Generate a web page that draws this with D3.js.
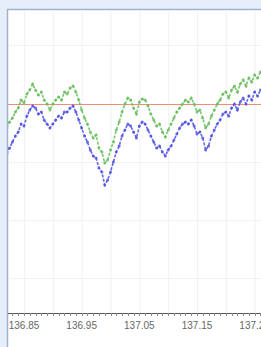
<!DOCTYPE html>
<html>
<head>
<meta charset="utf-8">
<script src="https://cdn.jsdelivr.net/npm/d3@7"></script>
<style>
body { margin:0; padding:0; background:#e6eff9; }
svg { display:block; }
</style>
</head>
<body>
<div id="chart"></div>
<script>
(function(){

var width = 261,
	height = 347,
	frame = {left: 7, top: 9},
	axis_y = 313;

// x runs in regular steps, y is the level relative to the red reference line

var x_start = 136.82,
	x_step = 0.005;

var green = [-24,-18,-14,-8,-4,4,1,10,14,20,14,9,12,4,0,-6,0,4,7,4,12,10,16,18,12,4,-6,-14,-20,-28,
	-34,-31,-44,-48,-59,-56,-46,-38,-26,-18,-8,0,6,4,-4,-10,2,5,4,-2,-10,-16,-22,-20,-28,-33,-26,-20,-14,-8,
	-4,0,4,2,6,0,-8,-6,-14,-24,-20,-12,-6,0,4,10,12,6,14,18,12,20,24,18,26,22,29,26,32];

var blue = [-50,-44,-38,-32,-28,-20,-22,-12,-6,-2,-4,-10,-8,-16,-20,-24,-20,-16,-12,-14,-8,-8,-4,-2,-8,-16,-24,-32,-38,-46,
	-52,-54,-64,-68,-81,-76,-68,-58,-48,-42,-32,-26,-20,-22,-28,-34,-22,-18,-20,-26,-32,-38,-44,-42,-48,-52,-46,-42,-36,-30,
	-24,-20,-18,-20,-16,-22,-30,-28,-34,-46,-42,-32,-26,-20,-16,-10,-8,-12,-4,0,-6,2,6,0,8,4,12,8,14];

var ref_level = 0;
var x_ticks = [136.85, 136.95, 137.05, 137.15, 137.25];
var x_grid = [136.85, 136.9, 136.95, 137.0, 137.05, 137.1, 137.15, 137.2, 137.25];
var y_grid = [59, 0, -58, -116, -174];

var greencolor = "rgb(100,188,88)",
	bluecolor = "rgb(76,76,226)",
	refcolor = "rgb(240,140,120)";

// scales
var X = d3.scaleLinear().domain([136.85, 137.15]).range([24, 197]);
var Y = d3.scaleLinear().domain([-209, 94]).range([axis_y, frame.top + 1]);

var svg = d3.select("#chart").append("svg")
	.attr("width", width)
	.attr("height", height);

svg.append("rect")
	.attr("width", width).attr("height", height)
	.style("fill", "#e6eff9");

// plot area with its frame
svg.append("rect")
	.attr("x", frame.left + 0.5).attr("y", frame.top + 0.5)
	.attr("width", width).attr("height", height)
	.style("fill", "#fff")
	.style("stroke", "#9fb3cc")
	.style("stroke-width", 1.5);

svg.append("clipPath").attr("id", "plotclip")
	.append("rect")
	.attr("x", frame.left + 1).attr("y", frame.top + 1)
	.attr("width", width).attr("height", height);

var plot = svg.append("g").attr("clip-path", "url(#plotclip)");

// faint grid
plot.selectAll(".vgrid").data(x_grid).enter().append("line")
	.attr("class", "vgrid")
	.attr("x1", function(d){ return X(d) + 0.5 }).attr("x2", function(d){ return X(d) + 0.5 })
	.attr("y1", frame.top).attr("y2", axis_y)
	.style("stroke", "#f2f2f2");

plot.selectAll(".hgrid").data(y_grid).enter().append("line")
	.attr("class", "hgrid")
	.attr("x1", frame.left).attr("x2", width)
	.attr("y1", function(d){ return Math.round(Y(d)) + 0.5 }).attr("y2", function(d){ return Math.round(Y(d)) + 0.5 })
	.style("stroke", "#f2f2f2");

// reference line
plot.append("line")
	.attr("x1", frame.left).attr("x2", width)
	.attr("y1", Math.round(Y(ref_level)) + 0.5).attr("y2", Math.round(Y(ref_level)) + 0.5)
	.style("stroke", refcolor)
	.style("stroke-width", 1);

var line = d3.line()
	.x(function(d, i){ return X(x_start + i * x_step) })
	.y(function(d){ return Y(d) });

function series(data, color){
	plot.append("path")
		.datum(data)
		.attr("d", line)
		.style("fill", "none")
		.style("stroke", color)
		.style("stroke-width", 1.6)
		.style("stroke-dasharray", "3,1.5")
		.style("opacity", 0.85);
	plot.append("g").selectAll("circle").data(data).enter().append("circle")
		.attr("cx", function(d, i){ return X(x_start + i * x_step) })
		.attr("cy", function(d){ return Y(d) })
		.attr("r", 1.5)
		.style("fill", color)
		.style("opacity", 0.8);
}

series(green, greencolor);
series(blue, bluecolor);

// x axis with minor ticks
var minor = d3.range(136.83, 137.27, 0.01);

var ax = svg.append("g").attr("clip-path", "url(#plotclip)");

ax.append("line")
	.attr("x1", frame.left).attr("x2", width)
	.attr("y1", axis_y + 0.5).attr("y2", axis_y + 0.5)
	.style("stroke", "#555")
	.style("stroke-width", 1.2);

ax.selectAll(".minor").data(minor).enter().append("line")
	.attr("x1", function(d){ return Math.round(X(d)) + 0.5 }).attr("x2", function(d){ return Math.round(X(d)) + 0.5 })
	.attr("y1", axis_y).attr("y2", axis_y + 3)
	.style("stroke", "#888");

ax.selectAll(".label").data(x_ticks).enter().append("text")
	.attr("x", function(d){ return X(d) })
	.attr("y", axis_y + 16)
	.attr("text-anchor", "middle")
	.style("font-family", "Arial, 'Liberation Sans', sans-serif")
	.style("font-size", "10px")
	.style("fill", "#666")
	.text(function(d){ return d3.format(".2f")(d) });

})()
</script>
</body>
</html>
